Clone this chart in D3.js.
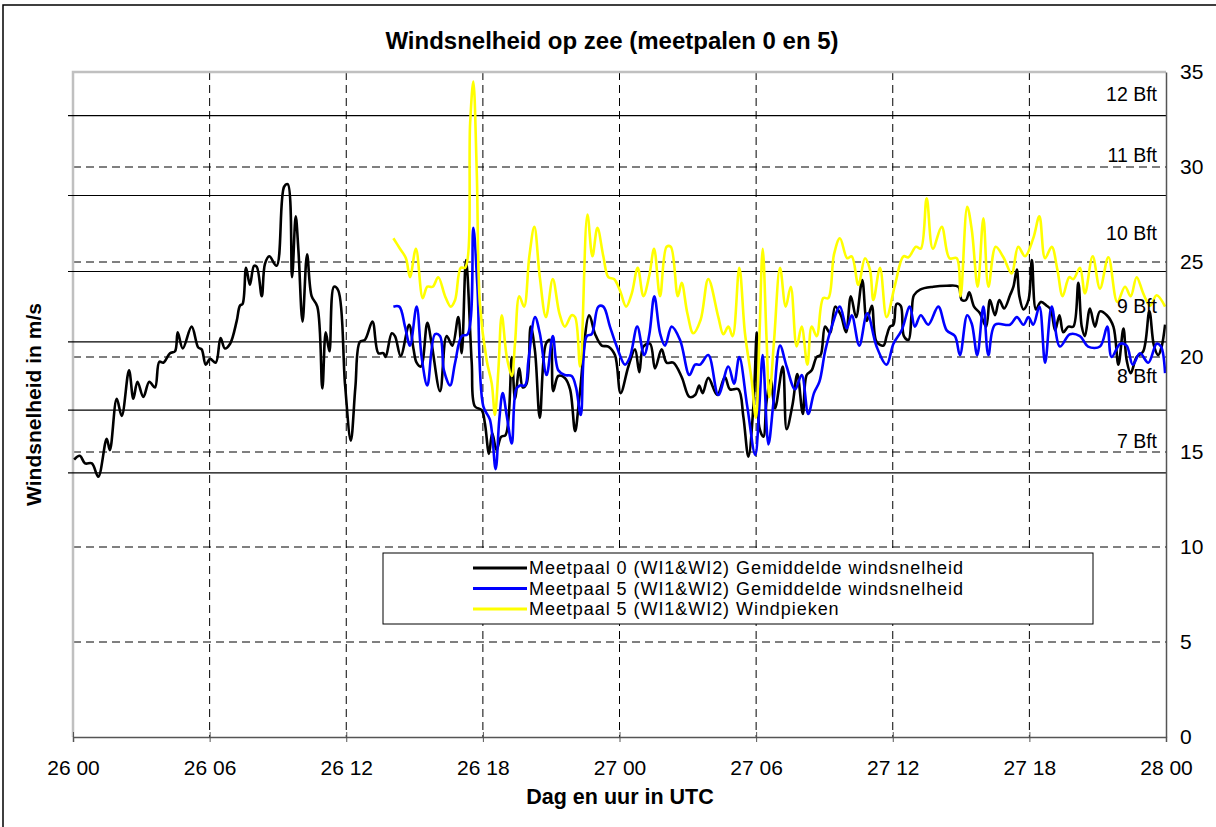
<!DOCTYPE html>
<html>
<head>
<meta charset="utf-8">
<script src="https://cdn.jsdelivr.net/npm/d3@7"></script>
<style>
body { margin: 0; background: #fff; }
svg { font-family: "Liberation Sans", Arial, sans-serif; }
</style>
</head>
<body>
<div id="chart"></div>
<script>
var TITLE = "Windsnelheid op zee (meetpalen 0 en 5)";
var X_TITLE = "Dag en uur in UTC";
var Y_TITLE = "Windsnelheid in m/s";

// hours since 26 00 UTC
var xTicks = [0, 6, 12, 18, 24, 30, 36, 42, 48];
var xTickLabels = ["26 00", "26 06", "26 12", "26 18", "27 00", "27 06", "27 12", "27 18", "28 00"];
var yTicks = [0, 5, 10, 15, 20, 25, 30, 35];

var bftNames = ["7 Bft", "8 Bft", "9 Bft", "10 Bft", "11 Bft", "12 Bft"];
var bftLimits = [13.9, 17.2, 20.8, 24.5, 28.5, 32.7];

var seriesNames = [
    "Meetpaal 0 (WI1&WI2) Gemiddelde windsnelheid",
    "Meetpaal 5 (WI1&WI2) Gemiddelde windsnelheid",
    "Meetpaal 5 (WI1&WI2) Windpieken"
];
var seriesColors = ["#000000", "#0000ff", "#ffff00"];

// [uur, m/s]
var paal0Gem = [
    [0.05,14.6],[0.3,14.8],[0.53,14.4],[0.83,14.4],[1.11,13.7],[1.48,15.7],[1.62,15.1],[1.92,17.8],[2.14,16.9],
    [2.46,19.3],[2.65,17.8],[2.83,18.7],[3.09,17.9],[3.35,18.7],[3.6,18.4],[3.79,19.75],[3.97,19.7],[4.26,20.2],
    [4.48,20.3],[4.6,21.3],[4.82,20.45],[5.21,21.6],[5.5,20.5],[5.65,20.4],[5.83,19.6],[6.02,19.9],[6.27,19.7],
    [6.48,21.0],[6.67,20.45],[6.9,20.7],[7.19,21.9],[7.33,22.7],[7.45,22.8],[7.6,24.7],[7.77,23.8],[7.95,24.8],
    [8.07,24.75],[8.29,23.2],[8.43,24.9],[8.62,25.3],[8.94,24.8],[9.27,28.96],[9.43,29.1],[9.62,24.2],[9.78,27.4],
    [9.9,25.6],[10.08,21.86],[10.28,25.4],[10.48,23.2],[10.73,22.65],[10.95,18.35],[11.1,21.3],[11.26,20.3],
    [11.46,23.7],[11.65,23.5],[11.95,18.5],[12.2,15.6],[12.4,18.4],[12.6,20.8],[12.82,20.9],[13.15,21.86],
    [13.41,20.2],[13.63,20.2],[13.73,20.0],[14.0,21.25],[14.14,21.1],[14.39,20.05],[14.76,21.7],[14.95,20.45],
    [15.09,19.7],[15.28,19.5],[15.56,21.8],[15.75,20.7],[16.12,18.2],[16.41,21.1],[16.66,20.6],[16.92,22.1],
    [17.07,20.2],[17.26,25.1],[17.51,19.7],[17.65,17.4],[17.95,17.2],[18.09,16.5],[18.27,14.9],[18.41,16.0],
    [18.6,15.1],[18.8,15.8],[19.0,15.9],[19.27,20.0],[19.41,17.8],[19.6,19.4],[19.75,18.4],[19.92,18.6],
    [20.1,21.6],[20.29,20.3],[20.5,16.8],[20.77,20.7],[20.95,20.9],[21.09,18.2],[21.31,19.0],[21.6,18.9],
    [21.83,18.3],[22.05,16.1],[22.24,17.9],[22.67,22.2],[22.93,21.2],[23.22,20.6],[23.51,20.55],[23.8,20.1],
    [24.05,18.1],[24.39,19.5],[24.68,20.4],[24.87,19.2],[25.05,20.55],[25.34,20.7],[25.56,19.4],[25.85,20.4],
    [26.07,19.7],[26.36,19.7],[26.73,18.95],[27.07,17.9],[27.32,18.0],[27.5,18.5],[27.65,18.1],[27.9,18.9],
    [28.29,18.0],[28.63,18.95],[28.85,18.3],[29.22,18.3],[29.44,16.85],[29.66,14.75],[29.88,17.4],[30.03,21.3],
    [30.14,16.3],[30.32,15.8],[30.46,17.7],[30.64,18.8],[30.83,17.3],[31.17,19.5],[31.34,16.2],[31.6,17.5],
    [31.81,19.1],[32.05,17.0],[32.22,19.05],[32.44,19.3],[32.66,20.0],[32.83,20.1],[33.03,21.6],[33.25,21.25],
    [33.47,22.65],[33.72,22.2],[33.95,21.3],[34.16,23.2],[34.39,22.1],[34.66,24.05],[34.86,21.9],[35.08,22.7],
    [35.29,20.8],[35.59,20.6],[35.73,21.1],[35.88,21.6],[36.03,21.7],[36.17,22.8],[36.35,22.7],[36.49,21.1],
    [36.69,20.9],[36.83,22.3],[36.93,23.25],[37.2,23.55],[37.78,23.7],[38.37,23.75],[38.88,23.7],[39.03,23.0],
    [39.22,23.0],[39.36,23.4],[39.57,22.65],[39.83,22.3],[40.1,21.6],[40.27,23.0],[40.49,22.2],[40.68,23.0],
    [40.89,22.55],[41.15,23.25],[41.3,23.7],[41.45,24.6],[41.56,23.2],[41.74,22.5],[41.96,23.0],[42.11,25.1],
    [42.29,22.5],[42.5,22.9],[42.76,22.7],[42.94,22.5],[43.13,21.4],[43.32,22.2],[43.49,21.3],[43.71,21.6],
    [43.93,21.6],[44.15,23.9],[44.3,21.6],[44.44,21.1],[44.66,22.55],[44.88,21.6],[45.1,22.4],[45.4,22.2],
    [45.69,21.6],[45.91,19.6],[46.13,21.5],[46.27,19.85],[46.45,19.15],[46.71,20.0],[47.0,20.3],[47.27,22.4],
    [47.47,20.6],[47.66,20.1],[47.81,20.55],[47.96,21.7]
];

var paal5Gem = [
    [14.07,22.65],[14.33,22.65],[14.58,21.6],[14.8,20.6],[15.09,22.65],[15.31,20.0],[15.56,18.5],[15.9,21.2],
    [16.12,21.1],[16.29,19.3],[16.56,18.5],[16.78,19.7],[17.07,21.1],[17.33,21.2],[17.58,26.8],[17.76,23.7],
    [18.02,17.4],[18.31,16.7],[18.56,14.1],[18.72,16.7],[18.87,18.1],[19.05,16.9],[19.27,15.45],[19.46,18.3],
    [19.63,18.5],[19.85,18.5],[20.0,19.8],[20.29,22.1],[20.5,21.25],[20.8,19.05],[21.07,21.1],[21.31,19.3],
    [21.6,19.05],[21.9,19.0],[22.09,18.4],[22.3,16.95],[22.56,21.1],[22.78,21.2],[23.07,22.65],[23.29,22.65],
    [23.58,21.6],[23.88,20.55],[24.24,19.6],[24.46,20.0],[24.78,21.6],[25.08,20.1],[25.31,21.2],[25.53,23.2],
    [25.78,21.25],[26.0,20.6],[26.29,21.6],[26.66,20.9],[27.07,19.05],[27.32,19.6],[27.54,19.6],[27.9,20.1],
    [28.34,18.0],[28.78,19.5],[29.03,18.6],[29.26,20.0],[29.61,17.4],[29.96,14.85],[30.14,17.4],[30.29,20.1],
    [30.54,15.4],[30.76,17.6],[31.05,20.6],[31.34,19.5],[31.71,18.3],[32.0,19.05],[32.29,17.0],[32.54,18.1],
    [32.78,18.7],[33.03,20.3],[33.32,21.6],[33.68,22.65],[33.98,21.5],[34.2,22.2],[34.53,20.6],[34.88,22.3],
    [35.29,20.55],[35.73,19.6],[36.03,20.7],[36.39,21.4],[36.75,22.65],[36.97,21.6],[37.23,22.2],[37.56,21.7],
    [38.0,22.65],[38.37,21.4],[38.73,21.1],[38.95,20.1],[39.27,22.2],[39.47,21.75],[39.71,20.1],[39.98,22.65],
    [40.2,20.1],[40.49,21.7],[41.15,21.7],[41.45,22.1],[41.74,21.7],[41.96,22.1],[42.17,21.7],[42.44,22.65],
    [42.69,19.7],[42.98,22.65],[43.34,20.55],[43.78,21.2],[44.22,21.1],[44.58,20.55],[45.1,20.55],[45.42,21.6],
    [45.61,20.0],[45.99,20.7],[46.27,20.6],[46.54,19.6],[46.86,20.2],[47.22,19.7],[47.59,20.7],[47.78,20.55],
    [47.96,19.15]
];

var paal5Piek = [
    [14.07,26.25],[14.36,25.7],[14.62,25.2],[14.8,24.2],[15.06,25.7],[15.36,23.1],[15.56,23.7],[15.8,23.7],
    [16.04,24.2],[16.34,23.2],[16.59,22.65],[16.78,23.0],[17.03,24.7],[17.22,24.7],[17.44,32.3],[17.58,34.5],
    [17.73,29.8],[17.87,22.8],[18.17,19.8],[18.39,18.6],[18.53,16.95],[18.68,19.3],[18.83,22.2],[19.05,20.0],
    [19.27,19.0],[19.41,20.7],[19.6,23.2],[19.81,22.65],[20.04,25.3],[20.26,26.85],[20.5,24.2],[20.77,22.1],
    [21.07,24.1],[21.36,22.3],[21.6,21.6],[21.9,22.2],[22.05,22.1],[22.27,19.5],[22.59,27.5],[22.81,25.3],
    [23.03,26.8],[23.29,25.3],[23.51,24.2],[23.76,24.1],[24.02,23.5],[24.29,22.65],[24.54,23.35],[24.8,24.7],
    [25.05,23.2],[25.31,24.3],[25.52,25.7],[25.78,23.2],[26.07,25.8],[26.25,25.8],[26.56,23.2],[26.73,23.9],
    [26.98,22.3],[27.24,21.25],[27.56,21.95],[27.9,24.1],[28.34,22.1],[28.56,21.2],[28.78,21.6],[28.97,21.1],
    [29.26,24.7],[29.51,21.25],[29.8,18.8],[29.99,16.8],[30.14,20.9],[30.29,25.7],[30.46,20.9],[30.58,17.9],
    [30.79,20.9],[31.05,24.7],[31.3,22.65],[31.52,23.7],[31.78,20.55],[32.0,21.6],[32.25,19.6],[32.44,21.6],
    [32.66,21.1],[32.95,23.1],[33.17,23.1],[33.42,25.4],[33.68,26.25],[34.0,25.2],[34.2,25.3],[34.49,23.8],
    [34.78,25.2],[35.0,24.6],[35.15,23.0],[35.44,24.7],[35.73,22.1],[36.1,23.8],[36.47,25.3],[36.69,25.25],
    [37.02,25.8],[37.23,25.7],[37.49,28.35],[37.76,25.7],[38.15,26.85],[38.49,25.2],[38.81,25.2],[38.98,23.2],
    [39.27,27.9],[39.47,26.7],[39.73,23.7],[39.98,27.3],[40.2,23.7],[40.52,25.8],[40.86,25.25],[41.22,24.4],
    [41.51,25.8],[41.81,25.3],[42.17,26.25],[42.44,27.4],[42.69,25.2],[42.98,25.8],[43.23,24.6],[43.46,23.2],
    [43.75,24.2],[43.93,24.1],[44.22,24.7],[44.44,23.35],[44.78,25.3],[45.1,23.6],[45.47,25.25],[45.86,22.9],
    [46.2,23.7],[46.45,23.2],[46.71,24.2],[47.0,23.35],[47.3,22.7],[47.59,23.25],[47.96,22.65]
];

var W = 1216, H = 827;
var M = {left: 73, right: 1166, top: 72, bottom: 737};

var svg = d3.select('#chart')
    .append('svg')
    .attr('width', W)
    .attr('height', H);

// outer frame
svg.append('rect')
    .attr('x', 3).attr('y', 5)
    .attr('width', W + 10).attr('height', H + 10)
    .attr('fill', '#fff')
    .attr('stroke', '#000')
    .attr('stroke-width', 1.5);

var x = d3.scaleLinear().domain([0, 48]).range([M.left, M.right]);
var y = d3.scaleLinear().domain([0, 35]).range([M.bottom, M.top]);

// horizontal dashed grid
svg.append('g').selectAll('line')
    .data(yTicks.filter(function(v){ return v > 0 && v < 35; }))
    .enter().append('line')
    .attr('x1', M.left).attr('x2', M.right)
    .attr('y1', function(d){ return y(d); }).attr('y2', function(d){ return y(d); })
    .attr('stroke', '#000').attr('stroke-width', 1)
    .attr('stroke-dasharray', '8,5');

// vertical dashed grid
svg.append('g').selectAll('line')
    .data(xTicks.filter(function(v){ return v > 0 && v < 48; }))
    .enter().append('line')
    .attr('x1', function(d){ return x(d); }).attr('x2', function(d){ return x(d); })
    .attr('y1', M.top).attr('y2', M.bottom)
    .attr('stroke', '#000').attr('stroke-width', 1)
    .attr('stroke-dasharray', '8,5');

// plot border (left and top)
svg.append('path')
    .attr('d', 'M' + M.left + ',' + M.bottom + 'V' + M.top + 'H' + M.right)
    .attr('fill', 'none').attr('stroke', '#c0c0c0').attr('stroke-width', 2.5);

// beaufort limits
svg.append('g').selectAll('line')
    .data(bftLimits)
    .enter().append('line')
    .attr('x1', M.left - 5).attr('x2', M.right)
    .attr('y1', function(d){ return y(d); }).attr('y2', function(d){ return y(d); })
    .attr('stroke', '#000').attr('stroke-width', 1.2);

// series
var line = d3.line()
    .x(function(d){ return x(d[0]); })
    .y(function(d){ return y(d[1]); })
    .curve(d3.curveCatmullRom.alpha(0.5));

[paal0Gem, paal5Gem, paal5Piek].forEach(function(s, i){
    svg.append('path')
        .datum(s)
        .attr('d', line)
        .attr('fill', 'none')
        .attr('stroke', seriesColors[i])
        .attr('stroke-width', 2.6)
        .attr('stroke-linejoin', 'round');
});

// beaufort labels
svg.append('g').selectAll('text')
    .data(bftNames)
    .enter().append('text')
    .attr('x', M.right - 9)
    .attr('y', function(d, i){
        var top = i + 1 < bftLimits.length ? bftLimits[i + 1] : 35;
        return y((bftLimits[i] + top) / 2);
    })
    .attr('dy', '0.35em')
    .attr('text-anchor', 'end')
    .style('font-size', '19.5px')
    .text(function(d){ return d; });

// axes
var xAxis = svg.append('g')
    .attr('transform', 'translate(0,' + M.bottom + ')')
    .call(d3.axisBottom(x).tickValues(xTicks).tickSize(5).tickPadding(18)
        .tickFormat(function(d, i){ return xTickLabels[i]; }));
xAxis.select('.domain').attr('stroke', '#555').attr('stroke-width', 1.5);
xAxis.selectAll('.tick line').attr('y1', -5).attr('y2', 5).attr('stroke', '#555');
xAxis.selectAll('text').style('font-size', '21px').attr('fill', '#000');

var yAxis = svg.append('g')
    .attr('transform', 'translate(' + M.right + ',0)')
    .call(d3.axisRight(y).tickValues(yTicks).tickSize(0).tickPadding(14));
yAxis.select('.domain').attr('stroke', '#555').attr('stroke-width', 1.5);
yAxis.selectAll('text').style('font-size', '21px').attr('fill', '#000');

// titles
svg.append('text')
    .attr('x', 612).attr('y', 49)
    .attr('text-anchor', 'middle')
    .style('font-size', '24px').style('font-weight', 'bold')
    .text(TITLE);

svg.append('text')
    .attr('x', 620).attr('y', 804)
    .attr('text-anchor', 'middle')
    .style('font-size', '21.5px').style('font-weight', 'bold')
    .text(X_TITLE);

svg.append('text')
    .attr('transform', 'translate(41,' + ((M.top + M.bottom) / 2) + ') rotate(-90)')
    .attr('text-anchor', 'middle')
    .style('font-size', '21px').style('font-weight', 'bold')
    .text(Y_TITLE);

// legend
var lg = svg.append('g').attr('transform', 'translate(383,553)');
lg.append('rect')
    .attr('width', 710).attr('height', 71)
    .attr('fill', '#fff').attr('stroke', '#000').attr('stroke-width', 1);
var items = lg.selectAll('.legend')
    .data(seriesNames)
    .enter().append('g')
    .attr('class', 'legend')
    .attr('transform', function(d, i){ return 'translate(0,' + (15 + i * 20.5) + ')'; });
items.append('line')
    .attr('x1', 90).attr('x2', 144)
    .attr('stroke', function(d, i){ return seriesColors[i]; })
    .attr('stroke-width', 3);
items.append('text')
    .attr('x', 146).attr('dy', '0.35em')
    .style('font-size', '18px')
    .style('letter-spacing', '0.95px')
    .text(function(d){ return d; });
</script>
</body>
</html>
